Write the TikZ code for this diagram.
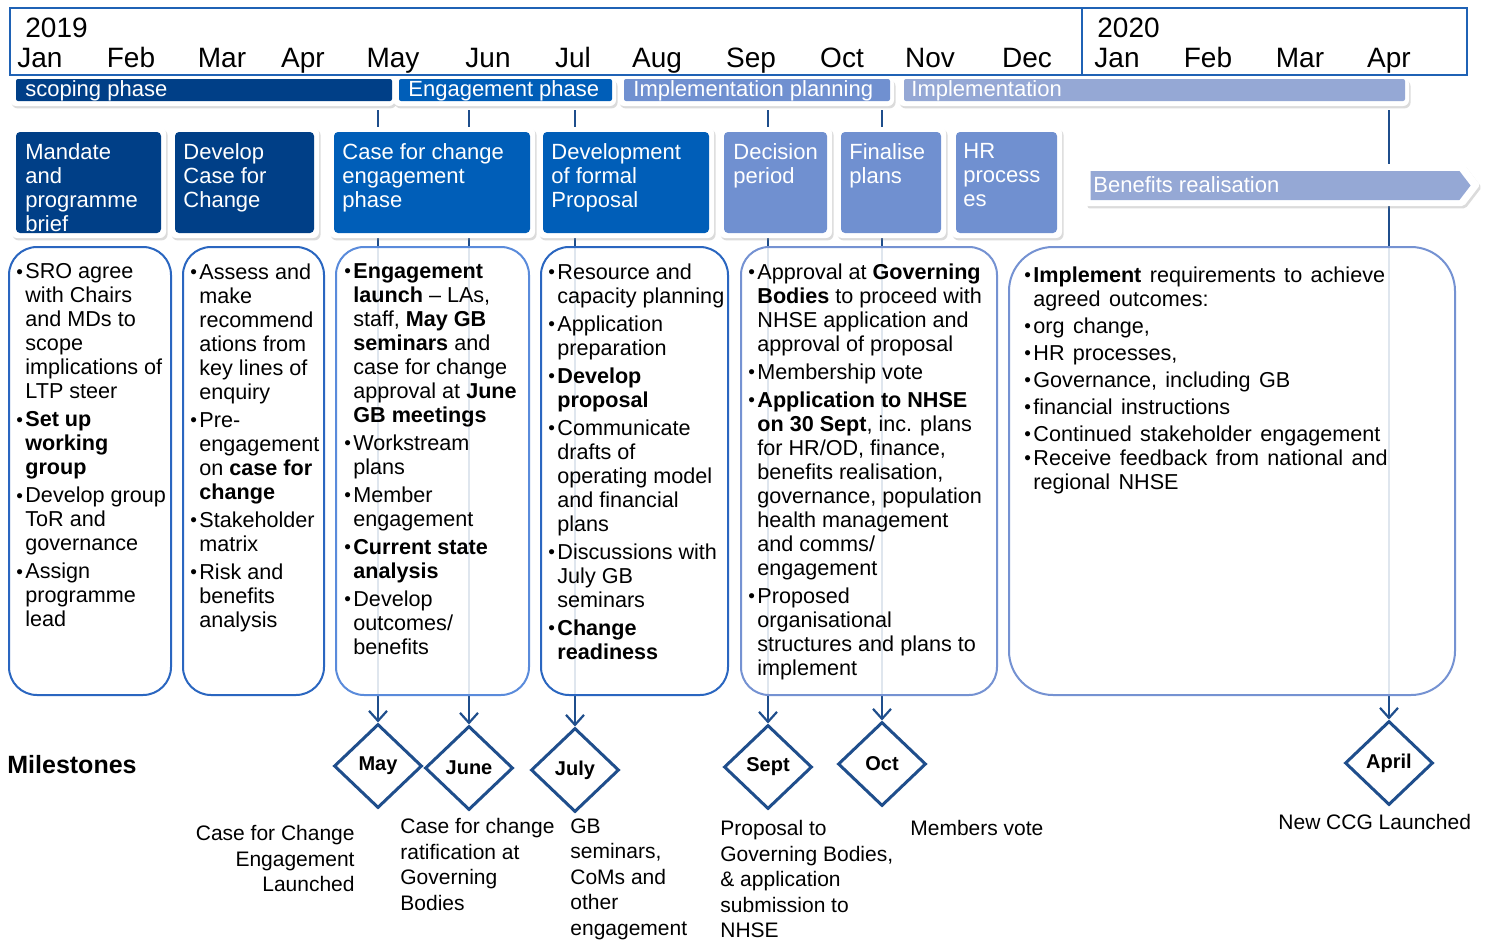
\documentclass[tikz,border=0pt]{standalone}
\usepackage{fontspec}
\setmainfont{Liberation Sans}
\usetikzlibrary{shapes.geometric,shapes.symbols,arrows.meta,shadows}
\definecolor{navy}{HTML}{003F87}
\definecolor{mblue}{HTML}{005EB8}
\definecolor{peri}{HTML}{7090D0}
\definecolor{lperi}{HTML}{95A8D5}
\definecolor{framebl}{HTML}{1F62B5}
\definecolor{lineb}{HTML}{1F4E8C}
\definecolor{bordA}{HTML}{2A66C0}
\definecolor{bordB}{HTML}{5A8BDB}
\definecolor{bordC}{HTML}{7592D2}
\newcommand{\bu}{\makebox[4.5pt][l]{\fontsize{9.5}{9.5}\selectfont\raisebox{0.2pt}{•}}}
\newcommand{\ct}{\hspace*{4.5pt}}
\newcommand{\widesp}{\spaceskip=4.2pt plus 1pt\relax}
\tikzset{
  wframe/.style={fill=white, rounded corners=3pt, inner sep=0pt,
     drop shadow={opacity=0.28, shadow xshift=0.8pt, shadow yshift=-1.2pt}},
  phasebar/.style={fill=#1, rounded corners=1pt, minimum height=11pt, inner sep=0pt},
  phasetext/.style={anchor=base west, inner sep=0pt, text=white,
     font=\fontsize{11}{12}\selectfont},
  headbox/.style={fill=#1, rounded corners=2pt, minimum height=50.5pt, inner sep=0pt},
  headtext/.style={anchor=north west, inner sep=0pt, text=white, align=left,
     font=\fontsize{11}{12}\selectfont},
  textbox/.style={draw=#1, line width=1pt, rounded corners=14pt, fill=white,
     fill opacity=0.86, minimum height=224pt, inner sep=0pt},
  bodytext/.style={anchor=north west, inner sep=0pt, align=left,
     font=\fontsize{10.8}{12}\selectfont},
  month/.style={anchor=base, inner sep=0pt, font=\fontsize{14}{16}\selectfont},
  milestone/.style={diamond, draw=lineb, line width=1.5pt, fill=white,
     minimum width=44pt, minimum height=42pt, inner sep=0pt,
     font=\bfseries\fontsize{10}{12}\selectfont},
  conn/.style={draw=lineb, line width=1.1pt, -{Straight Barb[length=5pt,width=9pt]}},
  mcaption/.style={anchor=north west, inner sep=0pt, align=left,
     font=\fontsize{10.5}{12.75}\selectfont},
}
\begin{document}
\begin{tikzpicture}[x=0.5pt,y=-0.5pt]
\fill[white, use as bounding box] (0,0) rectangle (1494,942);
% timeline frame
\draw[framebl, line width=1pt] (10,8) rectangle (1467,75);
\draw[framebl, line width=1pt] (1082,8) -- (1082,75);
\node[anchor=base west, inner sep=0pt, font=\fontsize{14}{16}\selectfont] (y2019) at (25,37) {2019};
\node[anchor=base west, inner sep=0pt, font=\fontsize{14}{16}\selectfont] (y2020) at (1097,37) {2020};
\foreach \m/\x/\n in {Jan/40/m1, Feb/131/m2, Mar/222/m3, Apr/303/m4, May/393/m5, Jun/488/m6,
  Jul/573/m7, Aug/657/m8, Sep/751/m9, Oct/842/m10, Nov/930/m11, Dec/1027/m12,
  Jan/1117/m13, Feb/1208/m14, Mar/1300/m15, Apr/1389/m16}
  \node[month] (\n) at (\x,67) {\m};

% milestones
\node[milestone] (dMay) at (378,766) {May};
\node[milestone] (dJune) at (469,768) {June};
\node[milestone] (dJuly) at (575,770) {July};
\node[milestone] (dSept) at (768,767) {Sept};
\node[milestone] (dOct) at (882,764) {Oct};
\node[milestone] (dApril) at (1389,763) {April};

\coordinate (tMay) at (378,110);
\coordinate (tJune) at (469,110);
\coordinate (tJuly) at (575,110);
\coordinate (tSept) at (768,110);
\coordinate (tOct) at (882,110);
\coordinate (tApril) at (1389,110);
\draw[conn] (tMay) -- (dMay.north);
\draw[conn] (tJune) -- (dJune.north);
\draw[conn] (tJuly) -- (dJuly.north);
\draw[conn] (tSept) -- (dSept.north);
\draw[conn] (tOct) -- (dOct.north);
\draw[conn] (tApril) -- (dApril.north);

% phase bars
\node[wframe, minimum width=192.5pt, minimum height=14pt] (ph1f) at (202.5,92) {};
\node[wframe, minimum width=111.5pt, minimum height=14pt] (ph2f) at (504.5,92) {};
\node[wframe, minimum width=138pt, minimum height=14pt] (ph3f) at (756,92) {};
\node[wframe, minimum width=255.5pt, minimum height=14pt] (ph4f) at (1153.5,92) {};
\node[phasebar=navy, minimum width=188pt] (ph1) at (204,90) {};
\node[phasebar=mblue, minimum width=106.5pt] (ph2) at (505.5,90) {};
\node[phasebar=peri, minimum width=133pt] (ph3) at (757,90) {};
\node[phasebar=lperi, minimum width=250.5pt] (ph4) at (1154.5,90) {};
\node[phasetext] (ph1t) at (25,96.5) {scoping phase};
\node[phasetext] (ph2t) at (408,96.5) {Engagement phase};
\node[phasetext] (ph3t) at (633,96.5) {Implementation planning};
\node[phasetext] (ph4t) at (911,96.5) {Implementation};

% header boxes
\node[wframe, minimum width=77.5pt, minimum height=55.5pt] (h1f) at (88.5,182.5) {};
\node[wframe, minimum width=74.5pt, minimum height=55.5pt] (h2f) at (244.5,182.5) {};
\node[wframe, minimum width=103pt, minimum height=55.5pt] (h3f) at (432,182.5) {};
\node[wframe, minimum width=88pt, minimum height=55.5pt] (h4f) at (626,182.5) {};
\node[wframe, minimum width=56.5pt, minimum height=55.5pt] (h5f) at (775.5,182.5) {};
\node[wframe, minimum width=55pt, minimum height=55.5pt] (h6f) at (891,182.5) {};
\node[wframe, minimum width=55.5pt, minimum height=55.5pt] (h7f) at (1006.5,182.5) {};
\node[headbox=navy, minimum width=72.5pt] (h1) at (88.5,182.5) {};
\node[headbox=navy, minimum width=69.5pt] (h2) at (244.5,182.5) {};
\node[headbox=mblue, minimum width=98pt] (h3) at (432,182.5) {};
\node[headbox=mblue, minimum width=83pt] (h4) at (626,182.5) {};
\node[headbox=peri, minimum width=51.5pt] (h5) at (775.5,182.5) {};
\node[headbox=peri, minimum width=50pt] (h6) at (891,182.5) {};
\node[headbox=peri, minimum width=50.5pt] (h7) at (1006.5,182.5) {};
\node[headtext] (h1t) at (25,143) {Mandate\\and\\programme\\brief};
\node[headtext] (h2t) at (183,143) {Develop\\Case for\\Change};
\node[headtext] (h3t) at (342,143) {Case for change\\engagement\\phase};
\node[headtext] (h4t) at (551,143) {Development\\of formal\\Proposal};
\node[headtext] (h5t) at (733,143) {Decision\\period};
\node[headtext] (h6t) at (849,143) {Finalise\\plans};
\node[headtext] (h7t) at (963,143) {HR\\process\\es};

% benefits arrow
\node[signal, signal to=east, signal pointer angle=105, wframe, rounded corners=1pt,
  minimum width=197pt, minimum height=21pt] (benf) at (1275,185) {};
\node[signal, signal to=east, signal pointer angle=105, fill=lperi, inner sep=0pt,
  minimum width=190pt, minimum height=14.5pt] (ben) at (1275,185.5) {};
\node[anchor=base west, inner sep=0pt, text=white, font=\fontsize{11}{12}\selectfont] (bent) at (1093,192.5) {Benefits realisation};

% text boxes
\node[textbox=bordA, minimum width=81pt] (b1) at (90,471) {};
\node[textbox=bordA, minimum width=70.5pt] (b2) at (253.5,471) {};
\node[textbox=bordB, minimum width=96.5pt] (b3) at (432.5,471) {};
\node[textbox=bordA, minimum width=93.5pt] (b4) at (634.5,471) {};
\node[textbox=bordC, minimum width=128pt] (b5) at (869,471) {};
\node[textbox=bordC, minimum width=223pt, rounded corners=22pt] (b6) at (1232,471) {};

\node[bodytext] (b1t) at (16,263) {\bu SRO agree\\
\ct with Chairs\\
\ct and MDs to\\
\ct scope\\
\ct implications of\\
\ct LTP steer\\[2pt]
\bu\textbf{Set up}\\
\ct\textbf{working}\\
\ct\textbf{group}\\[2pt]
\bu Develop group\\
\ct ToR and\\
\ct governance\\[2pt]
\bu Assign\\
\ct programme\\
\ct lead};

\node[bodytext] (b2t) at (190,263) {\bu Assess and\\
\ct make\\
\ct recommend\\
\ct ations from\\
\ct key lines of\\
\ct enquiry\\[2pt]
\bu Pre-\\
\ct engagement\\
\ct on \textbf{case for}\\
\ct\textbf{change}\\[2pt]
\bu Stakeholder\\
\ct matrix\\[2pt]
\bu Risk and\\
\ct benefits\\
\ct analysis};

\node[bodytext] (b3t) at (344,263) {\bu\textbf{Engagement}\\
\ct\textbf{launch} – LAs,\\
\ct staff, \textbf{May GB}\\
\ct\textbf{seminars} and\\
\ct case for change\\
\ct approval at \textbf{June}\\
\ct\textbf{GB meetings}\\[2pt]
\bu Workstream\\
\ct plans\\[2pt]
\bu Member\\
\ct engagement\\[2pt]
\bu\textbf{Current state}\\
\ct\textbf{analysis}\\[2pt]
\bu Develop\\
\ct outcomes/\\
\ct benefits};

\node[bodytext] (b4t) at (548,263) {\bu Resource and\\
\ct capacity planning\\[2pt]
\bu Application\\
\ct preparation\\[2pt]
\bu\textbf{Develop}\\
\ct\textbf{proposal}\\[2pt]
\bu Communicate\\
\ct drafts of\\
\ct operating model\\
\ct and financial\\
\ct plans\\[2pt]
\bu Discussions with\\
\ct July GB\\
\ct seminars\\[2pt]
\bu\textbf{Change}\\
\ct\textbf{readiness}};

\node[bodytext] (b5t) at (748,263) {\bu Approval at \textbf{Governing}\\
\ct\textbf{Bodies} to proceed with\\
\ct NHSE application and\\
\ct approval of proposal\\[2pt]
\bu Membership vote\\[2pt]
\bu\textbf{Application to NHSE}\\
\ct\textbf{on 30 Sept}, inc. plans\\
\ct for HR/OD, finance,\\
\ct benefits realisation,\\
\ct governance, population\\
\ct health management\\
\ct and comms/\\
\ct engagement\\[2pt]
\bu Proposed\\
\ct organisational\\
\ct structures and plans to\\
\ct implement};

\node[bodytext, font=\fontsize{10.8}{12}\selectfont\widesp] (b6t) at (1024,266) {\bu\textbf{Implement} requirements to achieve\\
\ct agreed outcomes:\\[1.5pt]
\bu org change,\\[1.5pt]
\bu HR processes,\\[1.5pt]
\bu Governance, including GB\\[1.5pt]
\bu financial instructions\\[1.5pt]
\bu Continued stakeholder engagement\\
\bu Receive feedback from national and\\
\ct regional NHSE};

% milestone captions
\node[anchor=west, inner sep=0pt, font=\bfseries\fontsize{12.5}{14}\selectfont] (ms) at (7,765) {Milestones};
\node[mcaption, anchor=north east, align=right] (c1) at (355,825) {Case for Change\\Engagement\\Launched};
\node[mcaption] (c2) at (400,818) {Case for change\\ratification at\\Governing\\Bodies};
\node[mcaption] (c3) at (570,818) {GB\\seminars,\\CoMs and\\other\\engagement};
\node[mcaption] (c4) at (720,820) {Proposal to\\Governing Bodies,\\\& application\\submission to\\NHSE};
\node[mcaption] (c5) at (910,820) {Members vote};
\node[mcaption] (c6) at (1278,814) {New CCG Launched};
\end{tikzpicture}
\end{document}
